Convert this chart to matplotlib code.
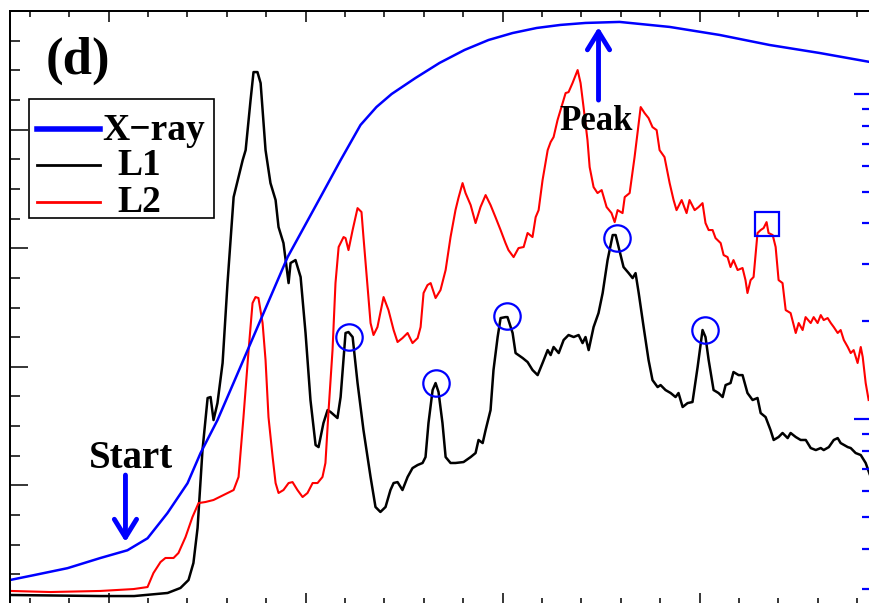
import numpy as np
import matplotlib
matplotlib.use("Agg")
import matplotlib.pyplot as plt
from matplotlib.ticker import MultipleLocator, NullFormatter, LogLocator
from matplotlib.patches import Rectangle
from matplotlib.lines import Line2D

# time axis in minutes, L1/L2 intensity (counts), X-ray flux (W/m^2)
xray_t = [5.0, 6.19, 7.92, 9.59, 10.96, 11.98, 12.99, 14.01, 14.67, 15.53, 16.34, 17.06,
          19.09, 20.76, 21.78, 22.79, 23.60, 24.37, 25.58, 26.80, 28.07, 29.29, 30.51,
          31.73, 32.94, 34.21, 35.94, 38.48, 41.02, 43.55, 46.09, 48.63]
xray_f = [3.20e-6, 3.31e-6, 3.48e-6, 3.74e-6, 3.95e-6, 4.30e-6, 5.14e-6, 6.35e-6, 7.86e-6,
          9.93e-6, 1.29e-5, 1.63e-5, 3.15e-5, 4.82e-5, 6.26e-5, 8.03e-5, 9.12e-5, 1.00e-4,
          1.120e-4, 1.246e-4, 1.366e-4, 1.466e-4, 1.540e-4, 1.596e-4, 1.631e-4, 1.654e-4,
          1.666e-4, 1.608e-4, 1.519e-4, 1.415e-4, 1.337e-4, 1.255e-4]

l1_t = [5.0, 9.6, 11.3, 13.0, 13.65, 14.06, 14.31, 14.52, 14.77, 15.03, 15.18, 15.33, 15.53,
        15.79, 16.04, 16.35, 16.81, 16.96, 17.21, 17.36, 17.56, 17.72, 17.97, 18.22, 18.48,
        18.63, 18.88, 19.14, 19.24, 19.49, 19.75, 20.00, 20.25, 20.51, 20.66, 20.91, 21.12,
        21.27, 21.62, 21.78, 22.03, 22.18, 22.39, 22.64, 22.94, 23.30, 23.55, 23.80, 24.06,
        24.31, 24.47, 24.67, 24.92, 25.18, 25.43, 25.69, 25.94, 26.09, 26.24, 26.45, 26.60,
        26.75, 26.95, 27.11, 27.36, 27.61, 28.02, 28.38, 28.63, 28.78, 28.99, 29.14, 29.39,
        29.54, 29.75, 29.90, 30.15, 30.25, 30.51, 30.66, 31.02, 31.27, 31.52, 31.78, 32.03,
        32.29, 32.44, 32.59, 32.85, 33.10, 33.35, 33.61, 33.86, 34.06, 34.21, 34.37, 34.62,
        34.87, 35.08, 35.33, 35.59, 35.74, 35.89, 36.14, 36.40, 36.60, 36.75, 36.91, 37.16,
        37.41, 37.61, 37.87, 38.02, 38.27, 38.53, 38.78, 38.93, 39.14, 39.39, 39.64, 39.90,
        40.15, 40.30, 40.46, 40.71, 40.96, 41.17, 41.32, 41.57, 41.72, 41.98, 42.18, 42.43,
        42.69, 42.94, 43.10, 43.35, 43.60, 43.76, 44.01, 44.21, 44.47, 44.62, 44.88, 45.13,
        45.39, 45.64, 45.90, 46.15, 46.30, 46.56, 46.81, 47.01, 47.16, 47.52, 47.67, 47.92,
        48.18, 48.43, 48.63]
l1_v = [7.6, 6.7, 6.7, 9.3, 13.5, 20.2, 34.6, 64.1, 129.8, 173.7, 174.5, 155.1, 169.4,
        203.2, 270.6, 343.1, 374.3, 382.7, 424.9, 448.5, 448.5, 439.2, 382.7, 354.9, 340.6,
        317.8, 304.3, 270.6, 287.5, 290.0, 275.7, 228.5, 172.0, 134.0, 132.3, 152.6, 163.5,
        161.9, 156.8, 174.5, 228.5, 229.3, 225.1, 186.3, 146.7, 107.1, 81.8, 77.6, 81.8,
        96.1, 102.0, 102.8, 96.1, 107.1, 114.6, 117.2, 118.9, 123.9, 152.6, 180.4, 186.3,
        178.7, 152.6, 123.9, 118.9, 118.9, 119.7, 123.9, 127.3, 138.3, 135.7, 146.7, 163.5,
        197.3, 225.1, 241.1, 241.9, 241.9, 228.5, 211.6, 207.4, 204.0, 197.3, 193.0, 203.2,
        214.1, 209.9, 216.7, 211.6, 222.6, 226.8, 225.1, 226.8, 220.0, 225.1, 214.1, 233.5,
        245.3, 262.2, 290.0, 311.1, 311.1, 301.0, 284.1, 279.0, 274.8, 279.0, 262.2, 233.5,
        205.7, 188.8, 182.9, 184.6, 180.4, 177.9, 174.5, 177.9, 166.1, 169.4, 170.3, 199.8,
        231.0, 225.1, 205.7, 180.4, 177.9, 174.5, 184.6, 186.3, 195.6, 193.0, 193.0, 177.9,
        172.0, 173.7, 161.0, 157.6, 146.7, 138.3, 140.8, 144.2, 139.9, 144.2, 140.8, 138.3,
        138.3, 131.5, 129.8, 131.5, 129.8, 132.3, 138.3, 139.9, 135.7, 132.3, 131.5, 127.3,
        125.6, 118.9, 109.6]

l2_t = [5.03, 7.06, 9.59, 11.27, 11.98, 12.28, 12.64, 12.89, 13.30, 13.55, 13.91, 14.26,
        14.57, 14.92, 15.33, 15.84, 16.35, 16.60, 16.85, 17.11, 17.31, 17.46, 17.61, 17.82,
        17.97, 18.12, 18.33, 18.48, 18.63, 18.88, 19.14, 19.34, 19.59, 19.85, 20.10, 20.36,
        20.61, 20.86, 21.01, 21.17, 21.37, 21.52, 21.68, 21.93, 22.03, 22.18, 22.39, 22.64,
        22.84, 22.94, 23.15, 23.30, 23.45, 23.65, 23.96, 24.21, 24.47, 24.67, 24.92, 25.18,
        25.43, 25.69, 25.84, 25.99, 26.19, 26.35, 26.60, 26.85, 27.11, 27.36, 27.61, 27.76,
        27.97, 28.12, 28.38, 28.63, 28.88, 29.14, 29.39, 29.64, 29.90, 30.15, 30.30, 30.56,
        30.81, 31.07, 31.27, 31.52, 31.68, 31.83, 32.03, 32.29, 32.44, 32.59, 32.79, 33.05,
        33.20, 33.35, 33.55, 33.81, 33.96, 34.11, 34.31, 34.42, 34.62, 34.82, 35.03, 35.28,
        35.53, 35.69, 35.84, 36.09, 36.20, 36.45, 36.70, 37.01, 37.21, 37.41, 37.61, 37.82,
        37.97, 38.22, 38.48, 38.68, 38.83, 39.09, 39.34, 39.49, 39.75, 39.95, 40.15, 40.30,
        40.46, 40.66, 40.81, 41.07, 41.22, 41.42, 41.57, 41.72, 41.93, 42.18, 42.33, 42.43,
        42.59, 42.74, 42.94, 43.10, 43.25, 43.40, 43.50, 43.71, 43.86, 44.01, 44.21, 44.37,
        44.62, 44.88, 45.03, 45.23, 45.38, 45.64, 45.79, 45.99, 46.15, 46.30, 46.50, 46.66,
        46.81, 47.01, 47.16, 47.32, 47.52, 47.67, 47.82, 48.02, 48.18, 48.28, 48.43, 48.58]
l2_v = [11.0, 10.1, 11.0, 12.6, 14.3, 26.1, 35.4, 38.8, 38.8, 43.0, 56.5, 73.3,
        85.1, 86.0, 87.7, 91.9, 96.1, 107.1, 157.6, 214.1, 253.7, 258.8, 258.0, 236.9,
        205.7, 157.6, 123.9, 102.0, 93.6, 96.1, 102.0, 102.8, 96.1, 90.2, 93.6, 102.0,
        102.0, 107.1, 118.9, 163.5, 214.1, 270.6, 301.0, 309.4, 308.5, 298.4, 315.3, 333.8,
        330.5, 309.4, 267.2, 236.9, 226.8, 233.5, 258.8, 247.8, 231.0, 220.9, 224.2, 228.5,
        220.0, 224.2, 233.5, 262.2, 268.9, 270.6, 258.0, 264.7, 281.6, 309.4, 332.1, 342.3,
        354.9, 346.5, 336.4, 321.2, 334.7, 344.8, 336.4, 326.2, 315.3, 304.3, 298.4, 292.5,
        300.1, 301.0, 312.8, 309.4, 326.2, 332.1, 357.4, 382.7, 389.5, 393.7, 408.0, 422.3,
        430.8, 431.6, 439.2, 450.2, 439.2, 419.0, 391.2, 368.4, 351.5, 346.5, 349.0, 334.7,
        329.6, 322.0, 332.1, 329.6, 343.1, 346.5, 376.8, 419.0, 413.9, 409.7, 402.1, 399.6,
        382.7, 376.8, 354.9, 340.6, 332.1, 340.6, 329.6, 340.6, 332.1, 334.7, 338.0, 321.2,
        315.3, 315.3, 308.5, 304.3, 294.2, 292.5, 284.1, 290.0, 281.6, 283.3, 273.1, 262.2,
        273.1, 275.7, 312.8, 315.3, 317.0, 322.0, 312.8, 311.1, 301.0, 273.1, 270.6, 247.8,
        245.3, 228.5, 236.9, 231.0, 241.9, 236.9, 241.9, 236.9, 243.6, 239.4, 241.1, 236.9,
        233.5, 228.5, 231.0, 222.6, 216.7, 211.6, 214.1, 203.2, 216.7, 208.2, 186.3, 172.0]

# marked L1 peaks (circles) and L2 peak (square)
circle_t = [22.23, 26.60, 30.20, 35.79, 40.25]
circle_v = [225.1, 186.3, 242.8, 308.5, 231.0]
square_t = [43.40]
square_v = [320.3]

labels = ["X\u2212ray", "L1", "L2"]
colors = ["blue", "black", "red"]

serif = "Liberation Serif"
W, H = 869, 603
fig = plt.figure(figsize=(W / 100, H / 100), dpi=100)
ax = fig.add_axes([10 / W, (H - 604) / H, 861 / W, 593 / H])
ax2 = ax.twinx()

ax.plot(l1_t, l1_v, color=colors[1], lw=1.8)
ax.plot(l2_t, l2_v, color=colors[2], lw=1.5)
ax.plot(circle_t, circle_v, "o", ms=19, mfc="none", mec="blue", mew=1.6)
ax.plot(square_t, square_v, "s", ms=17, mfc="none", mec="blue", mew=1.6)
ax2.plot(xray_t, xray_f, color=colors[0], lw=1.8)

ax.set_xlim(5, 48.7)
ax.set_ylim(0, 500)
ax.xaxis.set_major_locator(MultipleLocator(10))
ax.xaxis.set_minor_locator(MultipleLocator(2))
ax.yaxis.set_major_locator(MultipleLocator(100))
ax.yaxis.set_minor_locator(MultipleLocator(25))
ax.xaxis.set_major_formatter(NullFormatter())
ax.yaxis.set_major_formatter(NullFormatter())
ax.tick_params(axis="x", which="both", direction="in", top=True, bottom=True, width=1.1)
ax.tick_params(axis="x", which="major", length=8)
ax.tick_params(axis="x", which="minor", length=4.3)
ax.tick_params(axis="y", which="both", direction="in", left=True, right=False, width=1.1)
ax.tick_params(axis="y", which="major", length=13)
ax.tick_params(axis="y", which="minor", length=7)

ax2.set_yscale("log")
ax2.set_ylim(2.70e-6, 1.80e-4)
ax2.yaxis.set_major_locator(LogLocator(base=10))
ax2.yaxis.set_minor_locator(LogLocator(base=10, subs=np.arange(2, 10)))
ax2.yaxis.set_major_formatter(NullFormatter())
ax2.yaxis.set_minor_formatter(NullFormatter())
ax2.tick_params(axis="y", which="both", direction="in", colors="blue", width=1.6)
ax2.tick_params(axis="y", which="major", length=12)
ax2.tick_params(axis="y", which="minor", length=6.5)
for a in (ax, ax2):
    for s in a.spines.values():
        s.set_linewidth(1.3)

bold = dict(family=serif, weight="bold")
ax.text(0.041, 0.895, "(d)", transform=ax.transAxes, fontsize=38, **bold)

arrow = dict(arrowstyle="->,head_length=0.65,head_width=0.4", color="blue", lw=3.5,
             mutation_scale=20, shrinkA=0, shrinkB=0)
ax.annotate("", xy=(10.86, 52.3), xytext=(10.86, 108.7), arrowprops=arrow)
ax.text(11.12, 114.6, "Start", ha="center", va="baseline", fontsize=28, **bold)
ax.annotate("", xy=(34.87, 486.4), xytext=(34.87, 424.9), arrowprops=arrow)
ax.text(34.77, 399.6, "Peak", ha="center", va="baseline", fontsize=25, **bold)

# legend box, drawn by hand to follow the original spacing
tr = ax2.transAxes
ax2.add_patch(Rectangle((0.0221, 0.6509), 0.2148, 0.2007, transform=tr, fc="white",
                        ec="black", lw=1.2, zorder=10))
row_y = [0.8010, 0.7403, 0.6779]
text_y = [0.7825, 0.7234, 0.6610]
text_x = [0.1069, 0.1243, 0.1243]
widths = [4, 2, 2]
for lab, c, ly, ty, tx, lw in zip(labels, colors, row_y, text_y, text_x, widths):
    ax2.add_line(Line2D([0.0314, 0.1045], [ly, ly], transform=tr, color=c, lw=lw,
                        zorder=11))
    ax2.text(tx, ty, lab, transform=tr, va="baseline", fontsize=27, zorder=11, **bold)

fig.savefig("out.png", dpi=100)
